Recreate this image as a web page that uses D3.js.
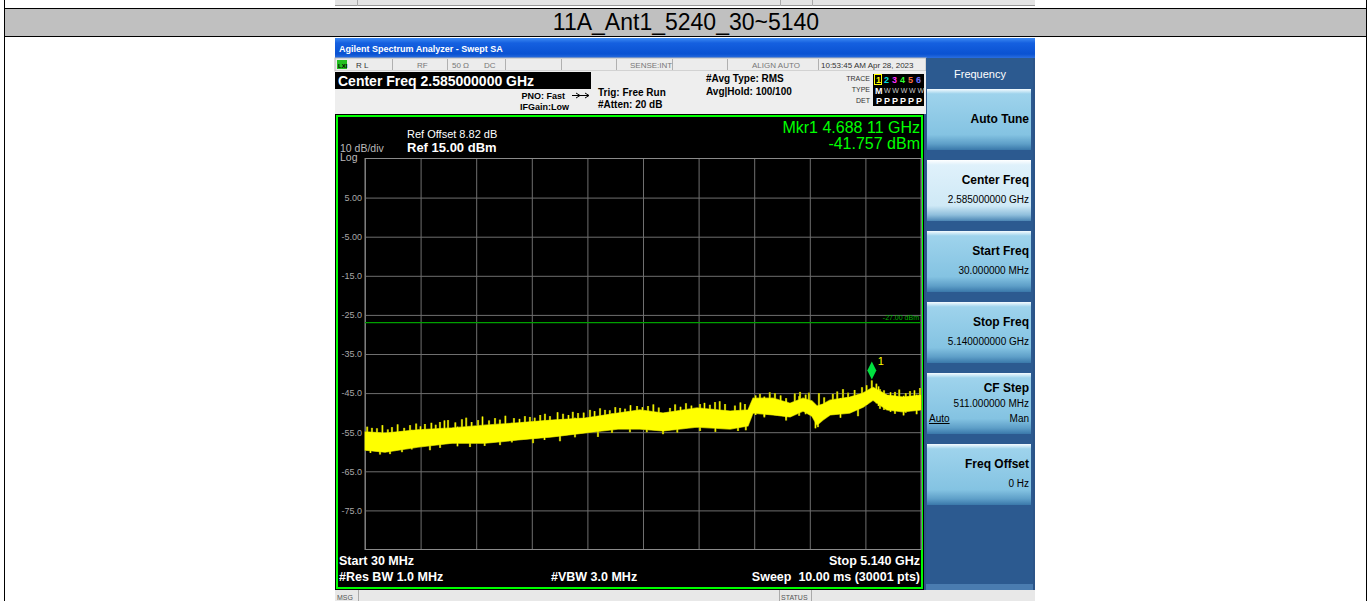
<!DOCTYPE html>
<html>
<head>
<meta charset="utf-8">
<script src="https://cdn.jsdelivr.net/npm/d3@7"></script>
<style>
  body { margin: 0; background: #fff; }
  svg { display: block; font-family: Arial, "Liberation Sans", sans-serif; }
</style>
</head>
<body>
<svg id="chart" width="1371" height="601"></svg>
<script>
// ---- values ----
const captionText = '11A_Ant1_5240_30~5140';
const startGHz = 0.03, stopGHz = 5.14;
const refLevel = 15, dbPerDiv = 10, divisions = 10;
const limitLevel = -27;
const markerFreq = 4.68811, markerLevel = -41.757;

// trace band: upper / lower edge of the noise (GHz, dBm)
const envFreq   = [0.030, 0.214, 0.517, 0.830, 1.133, 1.436, 1.749, 2.052, 2.355, 2.557, 2.769, 3.081, 3.385, 3.550, 3.596, 3.780, 3.936, 4.056, 4.138, 4.184, 4.239, 4.304, 4.487, 4.607, 4.699, 4.828, 4.975, 5.140];
const envTop    = [-54.9, -55.2, -54.4, -53.9, -53.2, -52.6, -51.9, -51.4, -50.1, -49.3, -50.1, -48.8, -49.6, -49.3, -46.3, -46.3, -47.6, -46.3, -47.0, -48.3, -47.8, -46.8, -46.0, -45.0, -43.5, -45.5, -46.0, -45.5];
const envBottom = [-59.6, -60.1, -58.8, -57.8, -57.8, -57.0, -56.2, -55.2, -54.2, -54.2, -54.7, -53.7, -54.2, -53.4, -50.1, -50.6, -51.1, -49.6, -50.9, -53.2, -51.9, -50.6, -50.1, -48.6, -46.8, -49.3, -49.8, -49.3];

// single-sample spikes poking out of the band
const spikeUpFreq  = [0.050, 0.094, 0.140, 0.190, 0.240, 0.278, 0.330, 0.390, 0.444, 0.500, 0.540, 0.581, 0.640, 0.680, 0.719, 0.760, 0.793, 0.860, 0.921, 0.960, 1.010, 1.069, 1.110, 1.170, 1.225, 1.270, 1.320, 1.399, 1.450, 1.500, 1.546, 1.590, 1.640, 1.684, 1.730, 1.800, 1.850, 1.900, 1.940, 1.988, 2.040, 2.098, 2.140, 2.190, 2.236, 2.280, 2.330, 2.374, 2.420, 2.470, 2.530, 2.580, 2.631, 2.680, 2.730, 2.833, 2.880, 2.930, 2.980, 3.030, 3.109, 3.150, 3.200, 3.247, 3.290, 3.339, 3.430, 3.480, 3.522, 3.620, 3.660, 3.700, 3.750, 3.798, 3.850, 3.900, 3.980, 4.028, 4.080, 4.110, 4.202, 4.250, 4.330, 4.370, 4.423, 4.470, 4.530, 4.598, 4.640, 4.688, 4.730, 4.763, 4.800, 4.860, 4.901, 4.940, 5.000, 5.039, 5.080, 5.131];
const spikeUpLevel = [-53.6, -53.9, -54.0, -53.2, -54.3, -53.7, -53.0, -53.9, -53.2, -52.8, -53.5, -52.9, -52.6, -53.1, -52.4, -52.0, -51.9, -52.5, -51.7, -51.3, -52.4, -51.9, -51.0, -52.0, -51.4, -51.8, -50.8, -51.4, -51.6, -50.9, -51.1, -51.3, -50.6, -50.3, -50.9, -49.9, -50.3, -50.6, -49.8, -50.1, -50.0, -49.3, -49.6, -48.9, -49.3, -49.4, -48.6, -48.8, -49.0, -48.1, -48.3, -48.6, -48.3, -47.9, -48.7, -48.8, -47.9, -48.5, -47.6, -48.2, -47.8, -47.5, -48.0, -47.3, -47.1, -47.8, -48.2, -47.4, -47.8, -45.6, -45.2, -45.9, -44.8, -45.0, -45.6, -46.3, -45.1, -44.7, -45.4, -44.9, -45.0, -46.1, -45.2, -44.6, -44.0, -44.9, -44.2, -43.5, -43.0, -41.76, -42.6, -44.0, -44.3, -44.8, -44.7, -44.1, -45.0, -44.5, -44.3, -43.7];
const spikeDownFreq  = [0.080, 0.168, 0.260, 0.370, 0.460, 0.627, 0.720, 0.880, 0.995, 1.130, 1.271, 1.380, 1.574, 1.680, 1.822, 1.960, 2.171, 2.300, 2.465, 2.620, 2.769, 2.900, 3.109, 3.250, 3.458, 3.530, 3.700, 3.900, 4.020, 4.170, 4.193, 4.400, 4.561, 4.750, 4.901, 4.980, 5.100];
const spikeDownLevel = [-60.3, -60.7, -60.6, -60.1, -59.4, -59.6, -59.0, -58.6, -58.8, -58.5, -58.3, -57.6, -57.8, -57.0, -57.3, -56.3, -56.2, -55.2, -55.0, -55.0, -55.5, -55.1, -54.7, -54.9, -54.7, -54.5, -51.2, -52.0, -50.8, -54.0, -53.7, -51.3, -50.9, -48.3, -50.3, -50.7, -50.4];

const yTickValues = [5, -5, -15, -25, -35, -45, -55, -65, -75];
const yTickLabels = ['5.00', '-5.00', '-15.0', '-25.0', '-35.0', '-45.0', '-55.0', '-65.0', '-75.0'];

const keyLabels = ['Auto Tune', 'Center Freq', 'Start Freq', 'Stop Freq', 'CF Step', 'Freq Offset'];
const keyValues = ['', '2.585000000 GHz', '30.000000 MHz', '5.140000000 GHz', '511.000000 MHz', '0 Hz'];

const svg = d3.select('#chart');
const defs = svg.append('defs');

function gradient(id, stops) {
  const g = defs.append('linearGradient').attr('id', id).attr('x1', 0).attr('x2', 0).attr('y1', 0).attr('y2', 1);
  stops.forEach(s => g.append('stop').attr('offset', s[0]).attr('stop-color', s[1]));
}
gradient('titleGrad', [[0, '#3d8af2'], [0.25, '#1560e0'], [0.8, '#0a52d2'], [1, '#2a6ee0']]);
gradient('keyGrad', [[0, '#f4fbff'], [0.08, '#9ed3ec'], [0.75, '#84c3e2'], [0.9, '#5e9fc8'], [1, '#3a78aa']]);
gradient('keySelGrad', [[0, '#ffffff'], [0.08, '#dff1fb'], [0.75, '#cfe9f6'], [0.9, '#8fbfdc'], [1, '#4c86b4']]);

function txt(g, x, y, s, o = {}) {
  return g.append('text').attr('x', x).attr('y', y).text(s)
    .attr('font-size', o.size || 10)
    .attr('font-weight', o.bold ? 'bold' : null)
    .attr('fill', o.fill || '#000')
    .attr('text-anchor', o.anchor || 'start');
}

// ---- document table around the screenshot ----
const page = svg.append('g');
page.append('rect').attr('x', 335).attr('y', 0).attr('width', 700).attr('height', 6).attr('fill', '#e4e4e4');
page.append('line').attr('x1', 335).attr('x2', 1035).attr('y1', 5.5).attr('y2', 5.5).attr('stroke', '#999');
[357, 780, 812].forEach(x => page.append('line').attr('x1', x + 0.5).attr('x2', x + 0.5).attr('y1', 0).attr('y2', 6).attr('stroke', '#aaa'));
page.append('rect').attr('x', 4).attr('y', 8).attr('width', 1362).attr('height', 28).attr('fill', '#c0c0c0');
[8.5, 36.5].forEach(y => page.append('line').attr('x1', 4).attr('x2', 1367).attr('y1', y).attr('y2', y).attr('stroke', '#000'));
[4.5, 1366.5].forEach(x => page.append('line').attr('x1', x).attr('x2', x).attr('y1', 0).attr('y2', 601).attr('stroke', '#000'));
txt(page, 686, 30, captionText, { size: 23, anchor: 'middle' });

// ---- analyzer window chrome ----
const win = svg.append('g');
win.append('rect').attr('x', 335).attr('y', 38).attr('width', 700).attr('height', 563).attr('fill', '#2b5488');
win.append('rect').attr('x', 335).attr('y', 38).attr('width', 700).attr('height', 20).attr('fill', 'url(#titleGrad)');
txt(win, 339, 52, 'Agilent Spectrum Analyzer - Swept SA', { size: 9, bold: true, fill: '#fff' });

win.append('rect').attr('x', 335).attr('y', 58).attr('width', 591).attr('height', 13).attr('fill', '#ececec').attr('stroke', '#b8b8b8');
[392, 447, 505, 561, 616, 672, 727, 818].forEach(x =>
  win.append('line').attr('x1', x + 0.5).attr('x2', x + 0.5).attr('y1', 59).attr('y2', 70).attr('stroke', '#b0b0b0'));
win.append('rect').attr('x', 337).attr('y', 60).attr('width', 10).attr('height', 9).attr('fill', '#22c022');
txt(win, 338, 67.5, 'LXI', { size: 6, bold: true, fill: '#000' });
txt(win, 356, 68, 'R L', { size: 8, fill: '#333' });
txt(win, 417, 68, 'RF', { size: 8, fill: '#777' });
txt(win, 452, 68, '50 Ω', { size: 8, fill: '#777' });
txt(win, 484, 68, 'DC', { size: 8, fill: '#777' });
txt(win, 630, 68, 'SENSE:INT', { size: 8, fill: '#777' });
txt(win, 752, 68, 'ALIGN AUTO', { size: 8, fill: '#777' });
txt(win, 821, 68, '10:53:45 AM Apr 28, 2023', { size: 8, fill: '#333' });

win.append('rect').attr('x', 335).attr('y', 71).attr('width', 591).attr('height', 43).attr('fill', '#eeeeee');
win.append('rect').attr('x', 335).attr('y', 72).attr('width', 256).attr('height', 17).attr('fill', '#000');
txt(win, 338, 86, 'Center Freq 2.585000000 GHz', { size: 14, bold: true, fill: '#fff' });
txt(win, 565, 99, 'PNO: Fast', { size: 9, bold: true, anchor: 'end' });
win.append('path').attr('d', 'M572,95.5H589M585,93L589,95.5L585,98M576,93L580,95.5L576,98').attr('stroke', '#000').attr('fill', 'none');
txt(win, 569, 110, 'IFGain:Low', { size: 9, bold: true, anchor: 'end' });
txt(win, 598, 96, 'Trig: Free Run', { size: 10, bold: true });
txt(win, 598, 108, '#Atten: 20 dB', { size: 10, bold: true });
txt(win, 706, 82, '#Avg Type: RMS', { size: 10, bold: true });
txt(win, 706, 95, 'Avg|Hold: 100/100', { size: 10, bold: true });
txt(win, 870, 81, 'TRACE', { size: 7, fill: '#333', anchor: 'end' });
txt(win, 870, 92, 'TYPE', { size: 7, fill: '#333', anchor: 'end' });
txt(win, 870, 103, 'DET', { size: 7, fill: '#333', anchor: 'end' });
win.append('rect').attr('x', 873).attr('y', 74).attr('width', 51).attr('height', 32).attr('fill', '#000');
const traceColors = ['#ffff00', '#00e0e0', '#ff30ff', '#30ff30', '#ff7040', '#7070ff'];
traceColors.forEach((c, i) => {
  if (i === 0) win.append('rect').attr('x', 874.5).attr('y', 74.5).attr('width', 7).attr('height', 10).attr('fill', 'none').attr('stroke', '#ffff00');
  txt(win, 876 + i * 8, 83, String(i + 1), { size: 9, bold: true, fill: c });
  txt(win, 876 + i * 8, 104, 'P', { size: 9, bold: true, fill: '#fff' });
});
txt(win, 875, 93.5, 'M', { size: 9, bold: true, fill: '#fff' });
txt(win, 884, 93, 'WWWWW', { size: 7, fill: '#ccc', anchor: 'start' }).attr('textLength', 40);

// ---- graticule ----
const plot = { left: 365, right: 921, top: 158.5, bottom: 549.5 };
const x = d3.scaleLinear().domain([startGHz, stopGHz]).range([plot.left, plot.right]);
const y = d3.scaleLinear().domain([refLevel - dbPerDiv * divisions, refLevel]).range([plot.bottom, plot.top]);

const scr = svg.append('g');
scr.append('rect').attr('x', 335).attr('y', 114).attr('width', 589).attr('height', 477).attr('fill', '#000');
scr.append('rect').attr('x', 337).attr('y', 116).attr('width', 585).attr('height', 472)
  .attr('fill', 'none').attr('stroke', '#00ff00').attr('stroke-width', 2);

const xGrid = d3.range(divisions + 1).map(i => startGHz + i * (stopGHz - startGHz) / divisions);
scr.append('g').attr('transform', `translate(0,${plot.bottom})`)
  .call(d3.axisBottom(x).tickValues(xGrid).tickSize(-(plot.bottom - plot.top)).tickFormat(''))
  .call(g => g.select('.domain').remove())
  .call(g => g.selectAll('line').attr('stroke', '#6f6f6f'));

scr.append('g').attr('transform', `translate(${plot.left},0)`)
  .call(d3.axisLeft(y).tickValues(yTickValues).tickSize(-(plot.right - plot.left)).tickPadding(3)
    .tickFormat((d, i) => yTickLabels[i]))
  .call(g => g.select('.domain').remove())
  .call(g => g.selectAll('line').attr('stroke', '#6f6f6f'))
  .call(g => g.selectAll('text').attr('fill', '#a8a8a8').attr('font-size', 9)
    .attr('font-family', 'Arial, "Liberation Sans", sans-serif'));

scr.append('rect').attr('x', plot.left).attr('y', plot.top)
  .attr('width', plot.right - plot.left).attr('height', plot.bottom - plot.top)
  .attr('fill', 'none').attr('stroke', '#8a8a8a');

// display line
scr.append('line').attr('x1', plot.left).attr('x2', plot.right)
  .attr('y1', y(limitLevel)).attr('y2', y(limitLevel)).attr('stroke', '#00a000').attr('stroke-width', 1.2);
txt(scr, 919, y(limitLevel) - 2.5, '-27.00 dBm', { size: 7, fill: '#00b000', anchor: 'end' });

// header texts inside the screen
txt(scr, 407, 138, 'Ref Offset 8.82 dB', { size: 11, fill: '#fff' });
txt(scr, 407, 152, 'Ref 15.00 dBm', { size: 13, bold: true, fill: '#fff' });
txt(scr, 340, 151.5, '10 dB/div', { size: 10.5, fill: '#bbb' });
txt(scr, 340, 161, 'Log', { size: 10.5, fill: '#bbb' });
txt(scr, 920, 133, 'Mkr1 4.688 11 GHz', { size: 16, fill: '#00ff00', anchor: 'end' });
txt(scr, 920, 149, '-41.757 dBm', { size: 16, fill: '#00ff00', anchor: 'end' });
txt(scr, 339, 565, 'Start 30 MHz', { size: 12.5, bold: true, fill: '#fff' });
txt(scr, 920, 565, 'Stop 5.140 GHz', { size: 12.5, bold: true, fill: '#fff', anchor: 'end' });
txt(scr, 339, 581, '#Res BW 1.0 MHz', { size: 12.5, bold: true, fill: '#fff' });
txt(scr, 551, 581, '#VBW 3.0 MHz', { size: 12.5, bold: true, fill: '#fff' });
txt(scr, 920, 581, 'Sweep  10.00 ms (30001 pts)', { size: 12.5, bold: true, fill: '#fff', anchor: 'end' })
  .attr('xml:space', 'preserve');

// ---- trace ----
const band = envFreq.map((f, i) => ({ f, hi: envTop[i], lo: envBottom[i] }));
const area = d3.area().x(d => x(d.f)).y0(d => y(d.lo)).y1(d => y(d.hi)).curve(d3.curveLinear);
const ups = spikeUpFreq.map((f, i) => ({ f, v: spikeUpLevel[i] }));
const downs = spikeDownFreq.map((f, i) => ({ f, v: spikeDownLevel[i] }));
const traceG = scr.append('g');

function spikes(cls, color, width) {
  const g = traceG.append('g').attr('class', cls);
  g.selectAll('line.u').data(ups).join('line').attr('class', 'u')
    .attr('x1', d => x(d.f)).attr('x2', d => x(d.f))
    .attr('y1', d => y(d.v)).attr('y2', d => y(d.v - 5))
    .attr('stroke', color).attr('stroke-width', width);
  g.selectAll('line.d').data(downs).join('line').attr('class', 'd')
    .attr('x1', d => x(d.f)).attr('x2', d => x(d.f))
    .attr('y1', d => y(d.v)).attr('y2', d => y(d.v + 5))
    .attr('stroke', color).attr('stroke-width', width);
}
// dark olive fringe under the band, bright samples on top of it
spikes('fringe', '#8c8c00', 2.2);
traceG.append('path').datum(band).attr('d', area)
  .attr('fill', '#ffff00').attr('stroke', '#a8a800').attr('stroke-width', 1.2).attr('stroke-linejoin', 'bevel');
traceG.append('path').datum(band).attr('d', area).attr('fill', '#ffff00');
spikes('bright', '#ffff00', 1);

// marker 1
const mx = x(markerFreq), my = y(markerLevel);
scr.append('path')
  .attr('d', `M${mx},${my - 1}L${mx + 4.5},${my - 10}L${mx},${my - 19}L${mx - 4.5},${my - 10}Z`)
  .attr('fill', '#00e040');
txt(scr, mx + 6, my - 15, '1', { size: 11, fill: '#ffff00' });

// bottom message bar
const bar = svg.append('g');
bar.append('rect').attr('x', 335).attr('y', 590).attr('width', 700).attr('height', 11).attr('fill', '#e8e8e8');
[358, 779, 811].forEach(xx => bar.append('line').attr('x1', xx + 0.5).attr('x2', xx + 0.5).attr('y1', 590).attr('y2', 601).attr('stroke', '#aaa'));
txt(bar, 337, 600, 'MSG', { size: 7, fill: '#555' });
txt(bar, 781, 600, 'STATUS', { size: 7, fill: '#555' });

// ---- softkey panel ----
const keys = svg.append('g');
keys.append('rect').attr('x', 926).attr('y', 58).attr('width', 107).attr('height', 532).attr('fill', '#2c5a90');
keys.append('rect').attr('x', 926).attr('y', 584).attr('width', 107).attr('height', 6).attr('fill', '#4a7cb0');
txt(keys, 980, 78, 'Frequency', { size: 11, fill: '#fff', anchor: 'middle' });
const keyTop = d3.scaleLinear().domain([0, 1]).range([89, 160]);
keyLabels.forEach((label, i) => {
  const t = keyTop(i);
  keys.append('rect').attr('x', 927).attr('y', t).attr('width', 104).attr('height', 61)
    .attr('fill', i === 1 ? 'url(#keySelGrad)' : 'url(#keyGrad)');
  if (i === 0) { txt(keys, 1029, t + 34, label, { size: 12, bold: true, anchor: 'end' }); return; }
  if (i === 4) {
    txt(keys, 1029, t + 19, label, { size: 12, bold: true, anchor: 'end' });
    txt(keys, 1029, t + 34, keyValues[i], { size: 10, anchor: 'end' });
    txt(keys, 929, t + 49, 'Auto', { size: 10 }).attr('text-decoration', 'underline');
    txt(keys, 1029, t + 49, 'Man', { size: 10, anchor: 'end' });
    return;
  }
  txt(keys, 1029, t + 24, label, { size: 12, bold: true, anchor: 'end' });
  txt(keys, 1029, t + 43, keyValues[i], { size: 10, anchor: 'end' });
});
</script>
</body>
</html>
